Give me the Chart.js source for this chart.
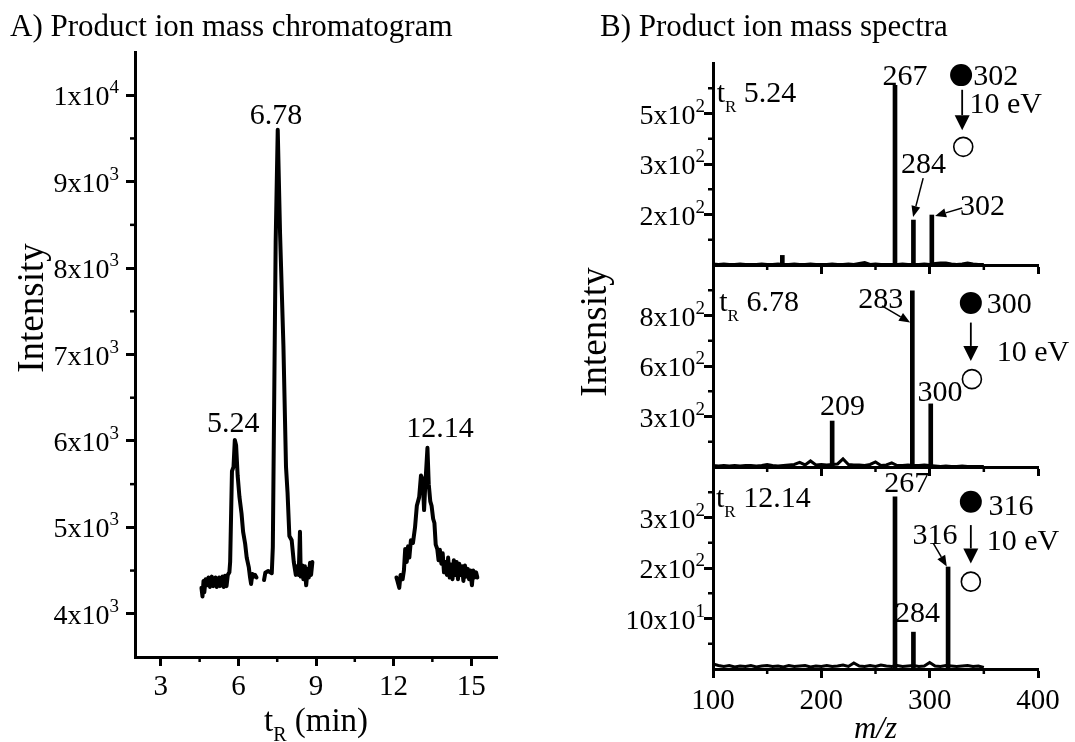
<!DOCTYPE html>
<html><head><meta charset="utf-8">
<script src="https://cdn.jsdelivr.net/npm/chart.js@4.4.1/dist/chart.umd.min.js"></script>
<style>
html,body{margin:0;padding:0;background:#fff;}
#wrap{position:relative;width:1075px;height:742px;overflow:hidden;}
canvas{position:absolute;left:0;top:0;}
</style></head><body>
<div id="wrap">
<canvas id="cA" width="1075" height="742"></canvas>
<canvas id="cB1" width="1075" height="742"></canvas>
<canvas id="cB2" width="1075" height="742"></canvas>
<canvas id="cB3" width="1075" height="742"></canvas>
</div>
<script>
// ================= DATA =================
// Panel A: product ion mass chromatogram (three acquisition windows)
const chromTicksX = [3, 6, 9, 12, 15];
const chromMinorX = [4.5, 7.5, 10.5, 13.5];
const chromTicksY = [4000, 5000, 6000, 7000, 8000, 9000, 10000];
const chromTickLabelsY = ['4x10^3', '5x10^3', '6x10^3', '7x10^3', '8x10^3', '9x10^3', '1x10^4'];
const chromMinorY = [4500, 5500, 6500, 7500, 8500, 9500];

const seg1Time = [4.57, 4.61, 4.65, 4.68, 4.73, 4.79, 4.84, 4.90, 4.97, 5.03, 5.11, 5.16, 5.25, 5.29, 5.38, 5.43, 5.48, 5.54, 5.59, 5.65, 5.68, 5.75, 5.81, 5.86, 5.91, 5.97, 6.04, 6.12, 6.18, 6.26, 6.32, 6.40, 6.45, 6.49, 6.54, 6.59, 6.64, 6.70];
const seg1Int  = [4300, 4200, 4380, 4250, 4400, 4330, 4420, 4310, 4430, 4320, 4420, 4310, 4420, 4320, 4430, 4310, 4440, 4320, 4450, 4480, 4600, 5650, 5700, 6010, 5950, 5600, 5350, 5160, 4950, 4810, 4650, 4540, 4420, 4345, 4460, 4430, 4450, 4420];

const seg2Time = [6.99, 7.04, 7.15, 7.29, 7.33, 7.44, 7.52, 7.61, 7.74, 7.84, 7.90, 7.97, 8.06, 8.14, 8.22, 8.27, 8.33, 8.38, 8.41, 8.47, 8.51, 8.57, 8.62, 8.68, 8.72, 8.77, 8.81, 8.86];
const seg2Int  = [4390, 4475, 4495, 4470, 4770, 8300, 9600, 8400, 7100, 5700, 5400, 4900, 4850, 4600, 4450, 4550, 4450, 4950, 4430, 4560, 4400, 4550, 4330, 4520, 4420, 4590, 4450, 4600];

const seg3Time = [12.11, 12.15, 12.22, 12.27, 12.35, 12.40, 12.45, 12.51, 12.56, 12.61, 12.67, 12.75, 12.83, 12.90, 12.99, 13.06, 13.13, 13.18, 13.22, 13.31, 13.36, 13.42, 13.47, 13.53, 13.58, 13.63, 13.69, 13.74, 13.79, 13.85, 13.90, 13.95, 14.01, 14.06, 14.11, 14.17, 14.22, 14.28, 14.33, 14.38, 14.44, 14.49, 14.54, 14.60, 14.65, 14.70, 14.76, 14.81, 14.87, 14.92, 14.97, 15.03, 15.08, 15.13, 15.19, 15.24];
const seg3Int  = [4420, 4380, 4300, 4450, 4400, 4500, 4750, 4600, 4780, 4650, 4850, 4820, 5000, 5250, 5350, 5600, 5550, 5200, 5450, 5920, 5500, 5300, 5250, 5100, 5050, 4800, 4750, 4620, 4740, 4580, 4700, 4480, 4600, 4450, 4650, 4420, 4570, 4400, 4620, 4450, 4600, 4400, 4580, 4450, 4550, 4380, 4560, 4430, 4520, 4400, 4500, 4330, 4500, 4420, 4480, 4420];

const peakLabels = ['5.24', '6.78', '12.14'];

// Panel B: product ion mass spectra (intensity in axis tick units)
const mzTicks = [100, 200, 300, 400];
const mzMinor = [150, 250, 350];
const specTicksY = [1, 2, 3];
const specMinorY = [0.5, 1.5, 2.5, 3.5];
const spec1TickLabels = ['2x10^2', '3x10^2', '5x10^2'];
const spec2TickLabels = ['3x10^2', '6x10^2', '8x10^2'];
const spec3TickLabels = ['10x10^1', '2x10^2', '3x10^2'];

const spec1Mz  = [164, 268, 285, 302];
const spec1Int = [0.19, 3.56, 0.89, 0.99];
const spec2Mz  = [210, 284, 301];
const spec2Int = [0.91, 3.49, 1.25];
const spec3Mz  = [268, 285, 317];
const spec3Int = [3.41, 0.73, 2.02];

const noiseMz = [100,105,110,115,120,125,130,135,140,145,150,155,160,165,170,175,180,185,190,195,200,205,210,215,220,225,230,235,240,245,250,255,260,265,270,275,280,285,290,295,300,305,310,315,320,325,330,335,340,345,350];
const noise1 = [0.02,0.01,0.02,0.01,0.01,0.02,0.01,0.01,0.01,0.02,0.01,0.01,0.02,0.01,0.01,0.02,0.01,0.01,0.02,0.01,0.01,0.01,0.02,0.01,0.01,0.02,0.01,0.03,0.05,0.01,0.02,0.01,0.01,0.01,0.01,0.02,0.01,0.01,0.01,0.02,0.01,0.03,0.04,0.04,0.02,0.01,0.02,0.04,0.02,0.01,0.01];
const noise2 = [0.03,0.02,0.03,0.02,0.03,0.02,0.03,0.03,0.02,0.03,0.05,0.03,0.02,0.03,0.04,0.05,0.09,0.04,0.12,0.04,0.05,0.04,0.05,0.06,0.16,0.05,0.04,0.04,0.03,0.05,0.10,0.03,0.04,0.08,0.03,0.03,0.04,0.03,0.03,0.04,0.03,0.02,0.01,0.02,0.01,0.01,0.02,0.01,0.01,0.01,0.01];
const noise3 = [0.10,0.07,0.05,0.07,0.04,0.06,0.05,0.07,0.04,0.06,0.07,0.05,0.06,0.04,0.07,0.05,0.06,0.07,0.04,0.06,0.05,0.07,0.05,0.06,0.08,0.05,0.12,0.06,0.05,0.07,0.05,0.08,0.06,0.05,0.07,0.05,0.06,0.07,0.05,0.06,0.13,0.06,0.05,0.07,0.06,0.05,0.06,0.07,0.05,0.06,0.03];

// ================= DRAWING HELPERS =================
const FONT = '"Liberation Serif","Times New Roman",serif';

function drawRich(ctx, x, y, parts, align) {
  let w = 0;
  parts.forEach(p => { ctx.font = (p.italic ? 'italic ' : '') + p.size + 'px ' + FONT; p.w = ctx.measureText(p.t).width; w += p.w; });
  let cx = align === 'center' ? x - w / 2 : (align === 'right' ? x - w : x);
  ctx.textAlign = 'left'; ctx.textBaseline = 'alphabetic'; ctx.fillStyle = '#000';
  parts.forEach(p => { ctx.font = (p.italic ? 'italic ' : '') + p.size + 'px ' + FONT; ctx.fillText(p.t, cx, y + (p.dy || 0)); cx += p.w; });
}

function arrow(ctx, x1, y1, x2, y2, L, W, lw) {
  const a = Math.atan2(y2 - y1, x2 - x1);
  const bx = x2 - L * Math.cos(a), by = y2 - L * Math.sin(a);
  ctx.strokeStyle = '#000'; ctx.fillStyle = '#000'; ctx.lineWidth = lw;
  ctx.beginPath(); ctx.moveTo(x1, y1); ctx.lineTo(bx, by); ctx.stroke();
  ctx.beginPath(); ctx.moveTo(x2, y2);
  ctx.lineTo(bx + W * Math.sin(a), by - W * Math.cos(a));
  ctx.lineTo(bx - W * Math.sin(a), by + W * Math.cos(a));
  ctx.closePath(); ctx.fill();
}

const deco = {};

const decoPlugin = {
  id: 'deco',
  afterDraw(chart) {
    const cfg = deco[chart.canvas.id]; if (!cfg) return;
    const ctx = chart.ctx, xs = chart.scales.x, ys = chart.scales.y, ca = chart.chartArea;
    ctx.save();
    ctx.strokeStyle = '#000'; ctx.lineWidth = 2.5;
    cfg.minorX.forEach(v => { const px = xs.getPixelForValue(v); ctx.beginPath(); ctx.moveTo(px, ca.bottom); ctx.lineTo(px, ca.bottom + 5); ctx.stroke(); });
    cfg.minorY.forEach(v => { const py = ys.getPixelForValue(v); ctx.beginPath(); ctx.moveTo(ca.left, py); ctx.lineTo(ca.left - 5, py); ctx.stroke(); });
    cfg.yTicks.forEach((v, i) => {
      const py = ys.getPixelForValue(v);
      const [base, exp] = cfg.yLabels[i].split('^');
      const parts = [{ t: base, size: 28 }];
      if (exp) parts.push({ t: exp, size: 19, dy: -12 });
      drawRich(ctx, ca.left - cfg.yGap, py + 10, parts, 'right');
    });
    if (cfg.xLabels) cfg.xTicks.forEach(v => {
      drawRich(ctx, xs.getPixelForValue(v), ca.bottom + cfg.xLabelOff, [{ t: String(v), size: 29 }], 'center');
    });
    cfg.items.forEach(it => {
      if (it.type === 'text') {
        const size = it.size || 30;
        drawRich(ctx, xs.getPixelForValue(it.x), ys.getPixelForValue(it.y) + size * 0.33, [{ t: it.text, size }], it.align || 'center');
      } else if (it.type === 'tR') {
        drawRich(ctx, xs.getPixelForValue(it.x), ys.getPixelForValue(it.y) + 10, [{ t: 't', size: 30 }, { t: 'R', size: 17, dy: 10 }, { t: ' ' + it.text, size: 30 }], 'left');
      } else if (it.type === 'dot') {
        ctx.beginPath(); ctx.arc(xs.getPixelForValue(it.x), ys.getPixelForValue(it.y), it.r, 0, Math.PI * 2);
        if (it.fill) { ctx.fillStyle = '#000'; ctx.fill(); } else { ctx.lineWidth = 1.6; ctx.strokeStyle = '#000'; ctx.stroke(); }
      } else if (it.type === 'arrow') {
        arrow(ctx, xs.getPixelForValue(it.x1), ys.getPixelForValue(it.y1), xs.getPixelForValue(it.x2), ys.getPixelForValue(it.y2), it.L, it.W, it.lw || 1.8);
      }
    });
    if (cfg.title) drawRich(ctx, cfg.title.x, cfg.title.y, [{ t: cfg.title.text, size: 31 }], 'left');
    if (cfg.xTitle) drawRich(ctx, (ca.left + ca.right) / 2, ca.bottom + cfg.xTitle.off, cfg.xTitle.parts, 'center');
    if (cfg.yTitle) {
      ctx.save(); ctx.translate(cfg.yTitle.x, cfg.yTitle.y); ctx.rotate(-Math.PI / 2);
      drawRich(ctx, 0, 12, [{ t: 'Intensity', size: 37 }], 'center');
      ctx.restore();
    }
    ctx.restore();
  }
};

function axis(min, max, ticks, isX, size) {
  return {
    type: 'linear', min, max, offset: false,
    afterBuildTicks: s => { s.ticks = ticks.map(v => ({ value: v })); },
    afterFit: s => { if (isX) s.height = size; else s.width = size; },
    ticks: { display: false },
    grid: { display: true, drawOnChartArea: false, drawTicks: true, tickLength: 9, tickWidth: 3, tickColor: '#000', offset: false },
    border: { display: true, color: '#000', width: 3 }
  };
}

const common = {
  responsive: false, animation: false, devicePixelRatio: 1, events: [],
  plugins: { legend: { display: false }, tooltip: { enabled: false } }
};

// ================= PANEL A =================
deco.cA = {
  minorX: chromMinorX, minorY: chromMinorY, yTicks: chromTicksY, yLabels: chromTickLabelsY, yGap: 16,
  xTicks: chromTicksX, xLabels: true, xLabelOff: 38,
  title: { x: 10, y: 36, text: 'A) Product ion mass chromatogram' },
  xTitle: { off: 74, parts: [{ t: 't', size: 33 }, { t: 'R', size: 20, dy: 10 }, { t: ' (min)', size: 33 }] },
  yTitle: { x: 31, y: 308 },
  items: [
    { type: 'text', x: 5.80, y: 6214, text: peakLabels[0] },
    { type: 'text', x: 7.45, y: 9787, text: peakLabels[1] },
    { type: 'text', x: 13.80, y: 6156, text: peakLabels[2] }
  ]
};
const segs = [[seg1Time, seg1Int], [seg2Time, seg2Int], [seg3Time, seg3Int]];
new Chart(document.getElementById('cA'), {
  type: 'line',
  data: { datasets: segs.map(([t, v]) => ({
    data: t.map((x, i) => ({ x, y: v[i] })), borderColor: '#000', borderWidth: 4,
    pointRadius: 0, tension: 0, fill: false, borderJoinStyle: 'round', borderCapStyle: 'round'
  })) },
  options: Object.assign({}, common, {
    layout: { padding: { left: 0, top: 52, right: 578, bottom: 0 } },
    scales: { x: axis(2, 16, chromTicksX, true, 85), y: axis(3500, 10500, chromTicksY, false, 135) }
  }),
  plugins: [decoPlugin]
});

// ================= PANEL B =================
function specChart(id, top, bottom, mz, inten, noise, labels, items, extra) {
  deco[id] = Object.assign({
    minorX: mzMinor, minorY: specMinorY, yTicks: specTicksY, yLabels: labels, yGap: 8,
    xTicks: mzTicks, xLabels: false, xLabelOff: 40, items
  }, extra || {});
  new Chart(document.getElementById(id), {
    type: 'bar',
    data: { datasets: [
      { type: 'line', data: noiseMz.map((m, i) => ({ x: m, y: noise[i] })), borderColor: '#000', borderWidth: 3, pointRadius: 0, tension: 0 },
      { type: 'bar', data: mz.map((m, i) => ({ x: m, y: inten[i] })), backgroundColor: '#000', borderWidth: 0, barThickness: 4 }
    ] },
    options: Object.assign({}, common, {
      layout: { padding: { left: 0, top: top, right: 37, bottom: 0 } },
      scales: { x: axis(100, 400, mzTicks, true, 742 - bottom), y: axis(0, 4, specTicksY, false, 713) }
    }),
    plugins: [decoPlugin]
  });
}

specChart('cB1', 63, 265, spec1Mz, spec1Int, noise1, spec1TickLabels, [
  { type: 'tR', x: 103.4, y: 3.43, text: '5.24' },
  { type: 'text', x: 277.3, y: 3.76, text: '267' },
  { type: 'dot', x: 329, y: 3.76, r: 11, fill: true },
  { type: 'text', x: 340.3, y: 3.76, text: '302', align: 'left' },
  { type: 'arrow', x1: 330, y1: 3.47, x2: 330, y2: 2.67, L: 15, W: 7.5 },
  { type: 'text', x: 336.7, y: 3.2, text: '10 eV', align: 'left' },
  { type: 'dot', x: 331, y: 2.34, r: 9.5, fill: false },
  { type: 'text', x: 294.2, y: 2.01, text: '284' },
  { type: 'arrow', x1: 294, y1: 1.72, x2: 284.7, y2: 0.95, L: 11, W: 4.5, lw: 1.5 },
  { type: 'text', x: 348.8, y: 1.19, text: '302' },
  { type: 'arrow', x1: 330, y1: 1.13, x2: 305, y2: 0.97, L: 11, W: 4.5, lw: 1.5 }
], { title: { x: 600, y: 36, text: 'B) Product ion mass spectra' } });

specChart('cB2', 265, 467, spec2Mz, spec2Int, noise2, spec2TickLabels, [
  { type: 'tR', x: 105.8, y: 3.29, text: '6.78' },
  { type: 'text', x: 254.9, y: 3.35, text: '283' },
  { type: 'arrow', x1: 256, y1: 3.19, x2: 282, y2: 2.86, L: 11, W: 4.5, lw: 1.5 },
  { type: 'dot', x: 338, y: 3.25, r: 11, fill: true },
  { type: 'text', x: 352.7, y: 3.25, text: '300', align: 'left' },
  { type: 'arrow', x1: 338, y1: 2.86, x2: 338, y2: 2.1, L: 15, W: 7.5 },
  { type: 'text', x: 361.9, y: 2.3, text: '10 eV', align: 'left' },
  { type: 'dot', x: 339, y: 1.74, r: 9.5, fill: false },
  { type: 'text', x: 309.6, y: 1.5, text: '300' },
  { type: 'text', x: 219.6, y: 1.23, text: '209' }
], { yTitle: { x: 594, y: 332 } });

specChart('cB3', 467, 669, spec3Mz, spec3Int, noise3, spec3TickLabels, [
  { type: 'tR', x: 102.8, y: 3.41, text: '12.14' },
  { type: 'text', x: 278.8, y: 3.71, text: '267' },
  { type: 'dot', x: 338, y: 3.31, r: 11, fill: true },
  { type: 'text', x: 354.2, y: 3.25, text: '316', align: 'left' },
  { type: 'text', x: 305, y: 2.67, text: '316' },
  { type: 'arrow', x1: 303.4, y1: 2.49, x2: 315.8, y2: 2.03, L: 11, W: 4.5, lw: 1.5 },
  { type: 'arrow', x1: 338, y1: 2.85, x2: 338, y2: 2.09, L: 15, W: 7.5 },
  { type: 'text', x: 352.7, y: 2.55, text: '10 eV', align: 'left' },
  { type: 'dot', x: 338, y: 1.73, r: 9.5, fill: false },
  { type: 'text', x: 288.8, y: 1.13, text: '284' }
], { xLabels: true, xTitle: { off: 69, parts: [{ t: 'm/z', size: 31, italic: true }] } });
</script>
</body></html>
